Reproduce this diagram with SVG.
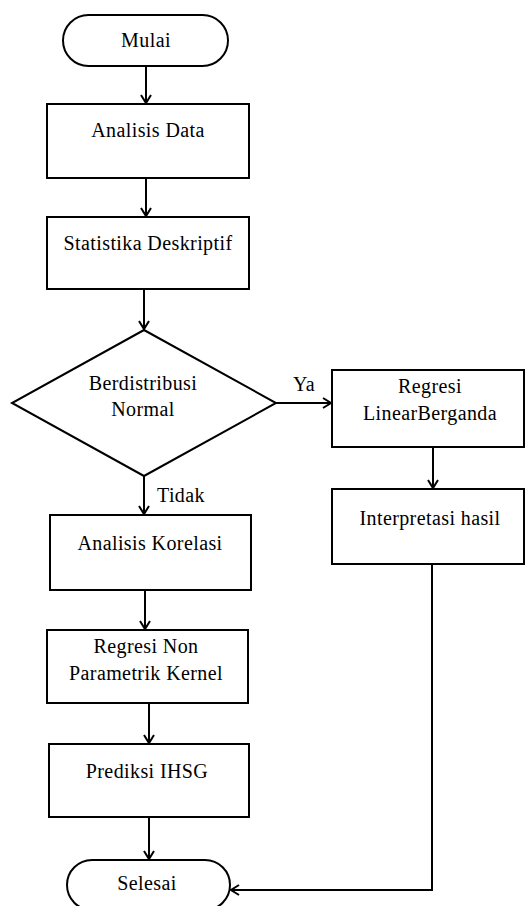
<svg xmlns="http://www.w3.org/2000/svg" width="526" height="906" viewBox="0 0 526 906">
<style>
.n{fill:#fff;stroke:#000;stroke-width:2}
.t{font-family:"Liberation Serif","Times New Roman",serif;font-size:20px;letter-spacing:0.4px;fill:#000;text-anchor:middle}
.l{font-family:"Liberation Serif","Times New Roman",serif;font-size:20px;letter-spacing:0.4px;fill:#000}
.c{fill:none;stroke:#000;stroke-width:2}
</style>
<defs>
<marker id="a" markerWidth="12" markerHeight="12" refX="10" refY="6" orient="auto" markerUnits="userSpaceOnUse">
<path d="M2,1 L10,6 L2,11" fill="none" stroke="#000" stroke-width="2"/>
</marker>
</defs>
<rect width="526" height="906" fill="#fff"/>
<g id="connectors">
<path class="c" d="M146,66 V103" marker-end="url(#a)"/>
<path class="c" d="M146,178 V216" marker-end="url(#a)"/>
<path class="c" d="M144,289 V329" marker-end="url(#a)"/>
<path class="c" d="M276,403 H331" marker-end="url(#a)"/>
<path class="c" d="M433,447 V488" marker-end="url(#a)"/>
<path class="c" d="M144,476 V514" marker-end="url(#a)"/>
<path class="c" d="M145,590 V629" marker-end="url(#a)"/>
<path class="c" d="M149,701 V743" marker-end="url(#a)"/>
<path class="c" d="M149,817 V859" marker-end="url(#a)"/>
<path class="c" d="M432,564 V890 H231" marker-end="url(#a)"/>
<text class="l" x="293" y="391">Ya</text>
<text class="l" x="157" y="502">Tidak</text>
</g>
<g id="mulai">
<rect class="n" x="63" y="15" width="165" height="51" rx="25.5"/>
<text class="t" x="146" y="47">Mulai</text>
</g>
<g id="analisis-data">
<rect class="n" x="47" y="104" width="202" height="74"/>
<text class="t" x="148" y="137">Analisis Data</text>
</g>
<g id="statistika">
<rect class="n" x="47" y="217" width="202" height="72"/>
<text class="t" x="148" y="250">Statistika Deskriptif</text>
</g>
<g id="berdistribusi">
<polygon class="n" points="144,330 276,403 144,476 12,403"/>
<text class="t" x="143" y="390">Berdistribusi</text>
<text class="t" x="143" y="416">Normal</text>
</g>
<g id="regresi-linear">
<rect class="n" x="332" y="370" width="192" height="77"/>
<text class="t" x="430" y="393">Regresi</text>
<text class="t" x="430" y="420">LinearBerganda</text>
</g>
<g id="interpretasi">
<rect class="n" x="332" y="489" width="192" height="75"/>
<text class="t" x="430" y="525">Interpretasi hasil</text>
</g>
<g id="analisis-korelasi">
<rect class="n" x="50" y="515" width="201" height="75"/>
<text class="t" x="150" y="550">Analisis Korelasi</text>
</g>
<g id="regresi-non">
<rect class="n" x="47" y="630" width="201" height="73"/>
<text class="t" x="146" y="653">Regresi Non</text>
<text class="t" x="146" y="680">Parametrik Kernel</text>
</g>
<g id="prediksi">
<rect class="n" x="49" y="744" width="200" height="73"/>
<text class="t" x="147" y="778">Prediksi IHSG</text>
</g>
<g id="selesai">
<rect class="n" x="67" y="860" width="163" height="50" rx="25"/>
<text class="t" x="147" y="890">Selesai</text>
</g>
</svg>
